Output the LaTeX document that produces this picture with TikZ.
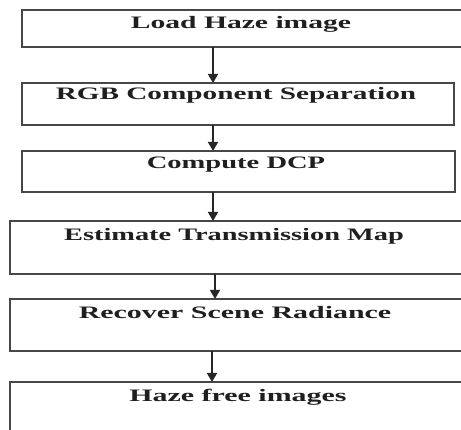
\documentclass[tikz,border=0pt]{standalone}
\usepackage{fontspec}
\setmainfont{Liberation Serif}
\usetikzlibrary{arrows.meta}
\begin{document}
\begin{tikzpicture}[x=1pt,y=-1pt,
  box/.style={draw=black!72, line width=1.6pt, rectangle, inner sep=0pt, outer sep=0pt, fill=white},
  lbl/.style={anchor=base, inner sep=0pt, text=black!88, font=\fontsize{17.5}{20}\selectfont\bfseries},
  arr/.style={draw=black!85, line width=1.6pt, -{Triangle[width=10pt,length=9pt]}}]
\clip (0,0) rectangle (461,430);
\fill[white] (0,0) rectangle (461,430);
% boxes
\node[box, minimum width=444pt, minimum height=37pt] (b1) at (244,28.5) {};
\node[box, minimum width=432pt, minimum height=42pt] (b2) at (238,104) {};
\node[box, minimum width=433pt, minimum height=41pt] (b3) at (238.5,171.5) {};
\node[box, minimum width=456pt, minimum height=53pt] (b4) at (238,247.5) {};
\node[box, minimum width=456pt, minimum height=52pt] (b5) at (238,325) {};
\node[box, minimum width=456pt, minimum height=58pt] (b6) at (238,411) {};
% labels
\node[lbl] (t1) at (241,29) {\scalebox{1.69}[1]{Load Haze image}};
\node[lbl] (t2) at (236,100) {\scalebox{1.67}[1]{RGB Component Separation}};
\node[lbl] (t3) at (236,169) {\scalebox{1.63}[1]{Compute DCP}};
\node[lbl] (t4) at (234,241) {\scalebox{1.62}[1]{Estimate Transmission Map}};
\node[lbl] (t5) at (235,319) {\scalebox{1.71}[1]{Recover Scene Radiance}};
\node[lbl] (t6) at (238,402) {\scalebox{1.71}[1]{Haze free images}};
% arrow x positions
\coordinate (ax1) at (213,0);
\coordinate (ax4) at (215,0);
\coordinate (ax5) at (212,0);
\draw[arr] (b1.south -| ax1) -- (b2.north -| ax1);
\draw[arr] (b2.south -| ax1) -- (b3.north -| ax1);
\draw[arr] (b3.south -| ax1) -- (b4.north -| ax1);
\draw[arr] (b4.south -| ax4) -- (b5.north -| ax4);
\draw[arr] (b5.south -| ax5) -- (b6.north -| ax5);
\end{tikzpicture}
\end{document}
